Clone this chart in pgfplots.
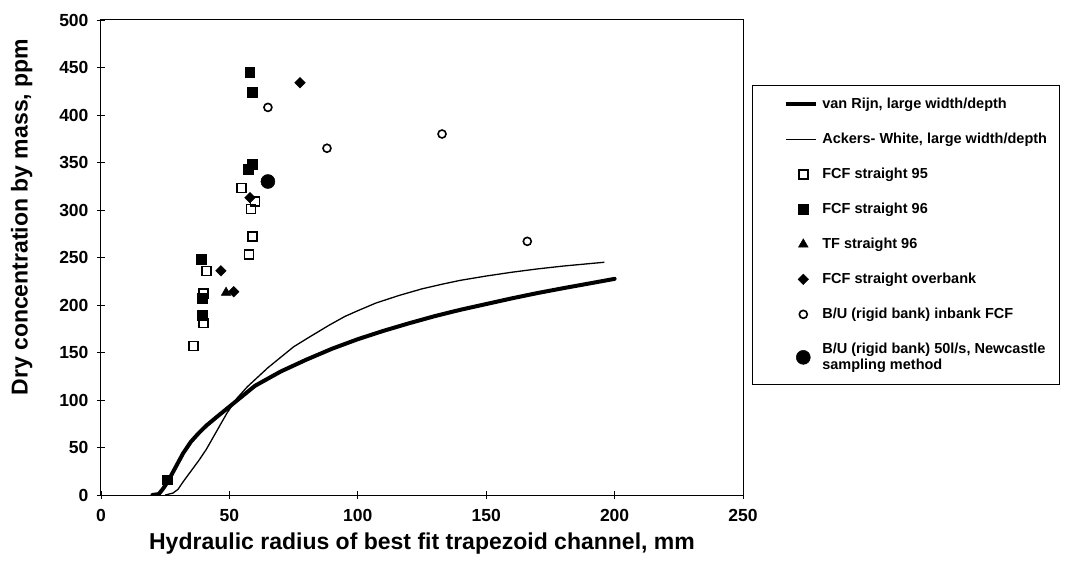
\documentclass[border=0pt]{standalone}
\usepackage{fontspec}
\setmainfont{Liberation Sans}
\usepackage{pgfplots}
\pgfplotsset{compat=1.18}
\pgfplotsset{
  lineleg/.style={legend image code/.code={\path (0pt,0pt) (54pt,0pt); \draw[##1, line cap=butt] (22pt,0pt) -- (52pt,0pt);}},
  markleg/.style={legend image code/.code={\path (0pt,0pt) (54pt,0pt); \draw[##1] plot coordinates {(39pt,0pt)};}},
}
\begin{document}
\begin{tikzpicture}
\begin{axis}[
  scale only axis, width=642pt, height=475pt,
  xmin=0, xmax=250, ymin=0, ymax=500,
  xtick={0,50,...,250}, ytick={0,50,...,500},
  xtick pos=bottom, ytick pos=left, tick align=center,
  major tick length=8pt,
  tick style={black, line width=0.8pt},
  axis line style={line width=1pt},
  ticklabel style={font=\fontsize{17.5}{19}\selectfont\bfseries},
  yticklabel style={xshift=-5pt},
  xticklabel style={yshift=-7pt},
  /pgf/number format/assume math mode=true,
  xlabel={Hydraulic radius of best fit trapezoid channel, mm},
  ylabel={Dry concentration by mass, ppm},
  label style={font=\fontsize{23}{26}\selectfont\bfseries},
  ylabel style={at={(ticklabel cs:0.585)}, yshift=20pt},
  xlabel style={yshift=-4pt},
  legend cell align=left,
  legend style={at={(1,1)}, anchor=north west, xshift=9pt, yshift=-65pt,
    draw=black, line width=0.6pt, inner xsep=10pt, inner ysep=11pt,
    font=\fontsize{14.5}{16}\selectfont\bfseries, row sep=19pt,
    cells={align=left}},
]
\addplot[black, line width=4pt, line join=round, line cap=round, lineleg]
 coordinates {(20,0) (22.5,1) (24,6) (26,14) (28,24) (30,34) (32,44) (35,56) (38,65) (41,73) (45,82) (50,93) (55,104) (60,115) (70,130) (80,142.5) (90,154) (100,164) (110,172.8) (120,180.8) (130,188.3) (140,195) (150,201) (160,207) (170,212.6) (180,217.7) (190,222.6) (200,227.5)};
\addlegendentry{van Rijn, large width/depth}
\addplot[black, line width=1.3pt, line join=round, lineleg]
 coordinates {(25,0) (28,2) (30,6) (32,14) (35,25) (38,36) (41,48) (45,67) (49,86) (53,102) (57,114) (61,124) (65,134) (70,145) (75,156) (81,166) (89,179) (95,188) (100,194) (107,202) (116,210) (125,217) (133,222) (140,226) (150,230.5) (160,234.5) (170,238) (180,241) (190,243.5) (196,245)};
\addlegendentry{Ackers- White, large width/depth}
\addplot[only marks, mark=square, mark size=4.5pt, mark options={line width=1.5pt, fill=white}, markleg]
 coordinates {(36,157) (40,181) (40,212) (41,236) (57.6,253) (58.9,272) (58.4,301) (60,309) (54.8,323)};
\addlegendentry{FCF straight 95}
\addplot[only marks, mark=square*, mark size=4.8pt, mark options={line width=0.5pt}, markleg]
 coordinates {(58,445) (58.8,424) (58.8,348) (57.3,343) (39,248) (39.5,207) (39.5,189) (25.8,16)};
\addlegendentry{FCF straight 96}
\addplot[only marks, mark=triangle*, mark size=5.5pt, mark options={line width=0.5pt}, markleg]
 coordinates {(48.7,213)};
\addlegendentry{TF straight 96}
\addplot[only marks, mark=square*, mark size=3.7pt, mark options={rotate=45, line width=0.5pt}, markleg]
 coordinates {(77.5,434) (46.7,236) (58,313) (51.7,214)};
\addlegendentry{FCF straight overbank}
\addplot[only marks, mark=o, mark size=4pt, mark options={line width=1.6pt, fill=white}, markleg]
 coordinates {(65,408) (88,365) (132.8,380) (166,267)};
\addlegendentry{B/U (rigid bank) inbank FCF}
\addplot[only marks, mark=*, mark size=7pt, mark options={line width=0.5pt}, markleg]
 coordinates {(65,330)};
\addlegendentry{B/U (rigid bank) 50l/s, Newcastle\\sampling method}
\end{axis}
\useasboundingbox (-101pt,-68pt) rectangle (969pt,495pt);
\end{tikzpicture}
\end{document}
